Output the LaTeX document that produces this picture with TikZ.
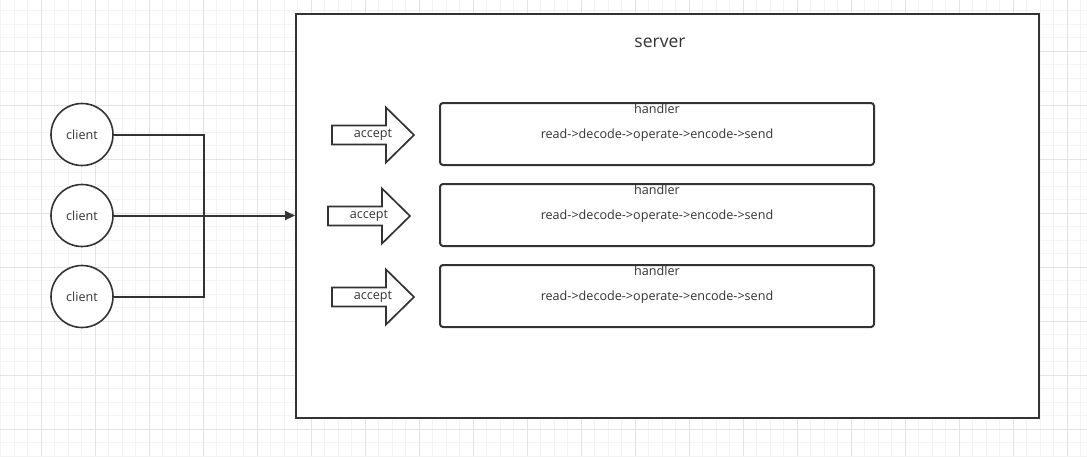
\documentclass[tikz,border=0pt]{standalone}
\usepackage{fontspec}
\setmainfont{Open Sans}
\usetikzlibrary{arrows.meta}
\definecolor{ink}{HTML}{333333}
\definecolor{gridminor}{HTML}{F3F3F3}
\definecolor{gridmajor}{HTML}{E3E3E3}
\begin{document}
\begin{tikzpicture}[x=1pt,y=-1pt,
  lbl/.style={font=\fontsize{12.6}{14}\selectfont,text=ink,inner sep=0pt},
  clientnode/.style={circle,draw=ink,line width=1.6pt,minimum size=62pt,fill=white,lbl},
  handlerbox/.style={draw=ink,line width=2pt,rounded corners=3pt,fill=white,minimum width=434pt,minimum height=62pt},
  wire/.style={draw=ink,line width=2pt},
  blockarrow/.style={draw=ink,line width=1.7pt,fill=white,line join=miter}
]
\useasboundingbox (0,0) rectangle (1087,456);
\fill[white] (0,0) rectangle (1087,456);
% grid
\foreach \i in {0,...,81} {\draw[gridminor,line width=1pt] ({0.8+13.5*\i},0) -- ({0.8+13.5*\i},456);}
\foreach \j in {0,...,34} {\draw[gridminor,line width=1pt] (0,{10.5+13.5*\j}) -- (1087,{10.5+13.5*\j});}
\foreach \i in {0,...,20} {\draw[gridmajor,line width=1pt] ({41.3+54*\i},0) -- ({41.3+54*\i},456);}
\foreach \j in {0,...,8} {\draw[gridmajor,line width=1pt] (0,{51+54*\j}) -- (1087,{51+54*\j});}
% server
\node[draw=ink,line width=2pt,fill=white,minimum width=743pt,minimum height=404pt,anchor=north west,inner sep=0pt] (server) at (295,13) {};
\node[font=\fontsize{17.5}{20}\selectfont,text=ink,inner sep=0pt] (servertitle) at (660,43) {server};
% clients
\node[clientnode] (c1) at (82,134.5) {client};
\node[clientnode] (c2) at (82,215.5) {client};
\node[clientnode] (c3) at (82,296.5) {client};
\coordinate (j1) at (204,134.5);
\coordinate (j3) at (204,296.5);
\draw[wire] (c1.east) -- (j1) -- (j3) -- (c3.east);
\draw[wire,-{Triangle[length=10pt,width=9pt]}] (c2.east) -- (c2.east -| server.west);
% accept arrows
\foreach \n/\x/\y/\tx in {1/332/135/373, 2/328/216/369, 3/332/297/373} {
  \draw[blockarrow] (\x,\y-9.5) -- (\x+54,\y-9.5) -- (\x+54,\y-27.5) -- (\x+82,\y) -- (\x+54,\y+27.5) -- (\x+54,\y+9.5) -- (\x,\y+9.5) -- cycle;
  \node[lbl] (acc\n) at (\tx,\y) {accept};
}
% handlers
\foreach \n/\y in {1/134, 2/215, 3/296} {
  \node[handlerbox] (h\n) at (657,\y) {};
  \node[lbl,anchor=north] (ht\n) at ([yshift=-1.5pt]h\n.north) {handler};
  \node[lbl] (hp\n) at ([yshift=-1pt]h\n.center) {read->decode->operate->encode->send};
}
\end{tikzpicture}
\end{document}
